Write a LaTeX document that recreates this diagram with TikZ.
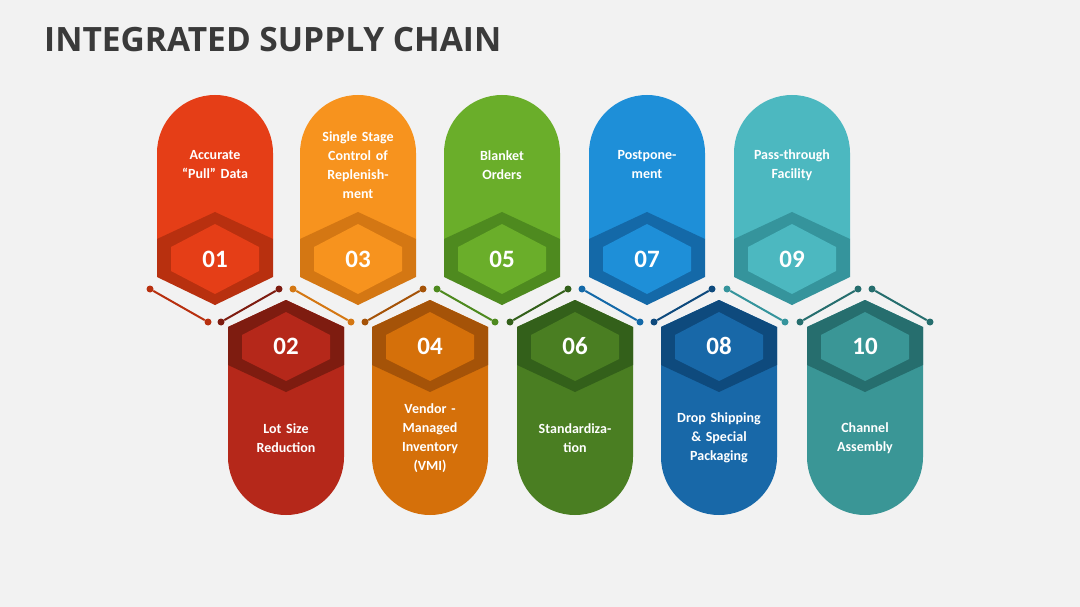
\documentclass[tikz,border=0pt]{standalone}
\usepackage{fontspec}
\setmainfont{Carlito}
\newfontfamily\titlefont{Open Sans}
\usetikzlibrary{positioning}

\definecolor{bgc}{HTML}{F2F2F2}
\definecolor{titc}{HTML}{3A3A3A}
\definecolor{ca}{HTML}{E53E17}\definecolor{da}{HTML}{B8300F}
\definecolor{cb}{HTML}{B5281A}\definecolor{db}{HTML}{7E1C10}
\definecolor{cc}{HTML}{F7931E}\definecolor{dc}{HTML}{D47713}
\definecolor{cd}{HTML}{D5700A}\definecolor{dd}{HTML}{A55308}
\definecolor{ce}{HTML}{6AAE2A}\definecolor{de}{HTML}{4E8A1F}
\definecolor{cf}{HTML}{4A7E22}\definecolor{df}{HTML}{33601A}
\definecolor{cg}{HTML}{1E8FD8}\definecolor{dg}{HTML}{1469A8}
\definecolor{ch}{HTML}{1868A8}\definecolor{dh}{HTML}{0E4A7D}
\definecolor{ci}{HTML}{4CB8C0}\definecolor{di}{HTML}{35949C}
\definecolor{cj}{HTML}{3A9696}\definecolor{dj}{HTML}{266E6E}

\tikzset{
  cardtext/.style={text=white,font=\bfseries\fontsize{14}{19}\selectfont,align=center,text width=100pt},
  numtext/.style={text=white,font=\bfseries\fontsize{25}{28}\selectfont},
  link/.style={line width=2pt},
  dot/.style={circle,inner sep=0pt,minimum size=7pt}
}

\begin{document}
\begin{tikzpicture}[x=1pt,y=-1pt]

\fill[bgc] (0,0) rectangle (1080,607);
\useasboundingbox (0,0) rectangle (1080,607);

\node[anchor=base west,text=titc,font=\titlefont\bfseries\fontsize{33.5}{40}\selectfont,inner sep=0pt] (title) at (44,52) {INTEGRATED SUPPLY CHAIN};

% top cards
\foreach \cx/\c/\d/\n/\t in {215/ca/da/01/{Accurate\\“Pull” Data},
  358/cc/dc/03/{Single Stage\\Control of\\Replenish-\\ment},
  502/ce/de/05/{Blanket\\Orders},
  647/cg/dg/07/{Postpone-\\ment},
  792/ci/di/09/{Pass-through\\Facility}}{
  \fill[\c] (\cx-58,239) -- (\cx-58,153) arc[start angle=180,end angle=360,radius=58]
    -- (\cx+58,239) -- (\cx,305) -- cycle;
  \fill[\d] (\cx,212) -- (\cx+58,239) -- (\cx+58,277) -- (\cx,305) -- (\cx-58,277) -- (\cx-58,239) -- cycle;
  \fill[\c] (\cx,224) -- (\cx+44,247) -- (\cx+44,271) -- (\cx,294) -- (\cx-44,271) -- (\cx-44,247) -- cycle;
  \node[numtext] (num\n) at (\cx,259) {\n};
  \node[cardtext] (txt\n) at (\cx,165) {\t};
  \node[dot,fill=\d] (la\n) at (\cx-65,289) {};
  \node[dot,fill=\d] (lb\n) at (\cx-7,322) {};
  \draw[link,\d] (la\n) -- (lb\n);
}

% bottom cards
\foreach \cx/\c/\d/\n/\t in {286/cb/db/02/{Lot Size\\Reduction},
  430/cd/dd/04/{Vendor -\\Managed\\Inventory\\(VMI)},
  575/cf/df/06/{Standardiza-\\tion},
  719/ch/dh/08/{Drop Shipping\\\& Special\\Packaging},
  865/cj/dj/10/{Channel\\Assembly}}{
  \fill[\c] (\cx,300) -- (\cx+58,327) -- (\cx+58,457) arc[start angle=0,end angle=180,radius=58]
    -- (\cx-58,327) -- cycle;
  \fill[\d] (\cx,300) -- (\cx+58,327) -- (\cx+58,365) -- (\cx,392) -- (\cx-58,365) -- (\cx-58,327) -- cycle;
  \fill[\c] (\cx,312) -- (\cx+44,335) -- (\cx+44,359) -- (\cx,381) -- (\cx-44,359) -- (\cx-44,335) -- cycle;
  \node[numtext] (num\n) at (\cx,346) {\n};
  \node[cardtext] (txt\n) at (\cx,438) {\t};
  \node[dot,fill=\d] (la\n) at (\cx-65,322) {};
  \node[dot,fill=\d] (lb\n) at (\cx-7,289) {};
  \draw[link,\d] (la\n) -- (lb\n);
}

% closing link at the right
\node[dot,fill=dj] (lc10) at (872,289) {};
\node[dot,fill=dj] (ld10) at (930,322) {};
\draw[link,dj] (lc10) -- (ld10);

\end{tikzpicture}
\end{document}
